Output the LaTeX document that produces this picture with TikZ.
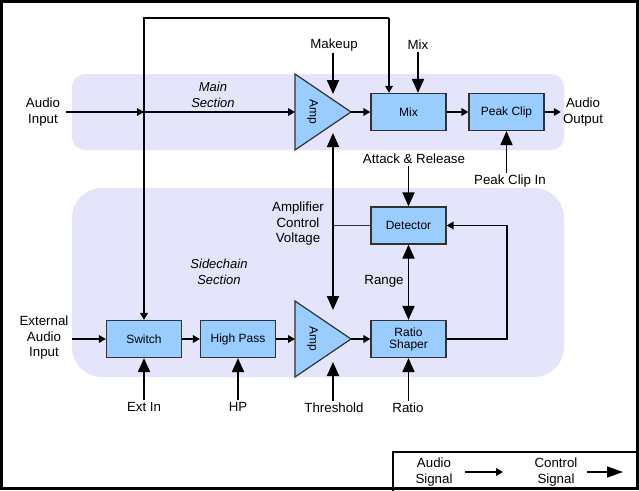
\documentclass[tikz,border=0pt]{standalone}
\usepackage{fontspec}
\setmainfont{Liberation Sans}
\usetikzlibrary{arrows.meta,calc}
\definecolor{bandc}{RGB}{228,228,250}
\definecolor{boxc}{RGB}{153,204,255}
\definecolor{edgec}{RGB}{50,50,50}
\begin{document}
\begin{tikzpicture}[x=1pt,y=-1pt,
 box/.style={draw=edgec,fill=boxc,line width=1.2pt,minimum width=75pt,minimum height=37pt,inner sep=0pt,font=\fontsize{12}{14}\selectfont,align=center},
 lbl/.style={inner sep=2pt,font=\fontsize{13.3}{15.5}\selectfont,align=center},
 sec/.style={inner sep=2pt,font=\fontsize{13}{15.5}\selectfont\itshape,align=center},
 audio/.style={line width=1.8pt,-{Triangle[length=7pt,width=7.5pt]}},
 ctrl/.style={line width=1.8pt,-{Triangle[length=14pt,width=12pt]}},
 ctrlboth/.style={line width=1.8pt,{Triangle[length=14pt,width=12pt]}-{Triangle[length=14pt,width=12pt]}},
 amp/.style={draw=edgec,fill=boxc,line width=1.2pt,line join=miter},
 amptext/.style={rotate=-90,inner sep=0pt,font=\fontsize{12}{14}\selectfont}
]
\useasboundingbox (0,0) rectangle (639,490);
\fill[white] (0,0) rectangle (639,490);
% bands
\fill[bandc,rounded corners=13pt] (72,74) rectangle (564,150);
\fill[bandc,rounded corners=30pt] (72,188) rectangle (564,377);

% amplifiers
\draw[amp] (295,74) -- (351,112) -- (295,150) -- cycle;
\node[amptext] (amp1) at (312.5,112) {Amp};
\draw[amp] (295,301) -- (351,339) -- (295,377) -- cycle;
\node[amptext] (amp2) at (312.5,339) {Amp};
\coordinate (amp1in) at (295,112);
\coordinate (amp1out) at (351,112);
\coordinate (amp2in) at (295,339);
\coordinate (amp2out) at (351,339);
\coordinate (makeupend) at (333,94);
\coordinate (amp1bot) at (333,133);
\coordinate (amp2top) at (333,310);
\coordinate (threshend) at (333,362);
\coordinate (J) at (144,112);
\coordinate (topL) at (144,18);
\coordinate (topR) at (389,18);

% boxes
\node[box] (mix) at (408.5,112) {Mix};
\node[box] (peak) at (506.5,112) {Peak Clip};
\node[box] (det) at (408.5,225.5) {Detector};
\node[box] (ratio) at (408.5,339) {Ratio\\[-2pt]Shaper};
\node[box] (switch) at (144,339) {Switch};
\node[box] (hp) at (238,339) {High Pass};

% labels
\node[lbl] (audioin) at (43,112) {Audio\\Input};
\node[lbl] (audioout) at (583,112) {Audio\\Output};
\node[lbl] (makeup) at (334,45) {Makeup};
\node[lbl] (mixlbl) at (418,45) {Mix};
\node[lbl] (attack) at (414,159) {Attack \& Release};
\node[lbl] (peakin) at (510,181) {Peak Clip In};
\node[lbl] (acv) at (298,224) {Amplifier\\Control\\Voltage};
\node[lbl] (range) at (384,281) {Range};
\node[lbl] (extin) at (144,407) {Ext In};
\node[lbl] (hplbl) at (238,407) {HP};
\node[lbl] (thresh) at (334,408) {Threshold};
\node[lbl] (ratiolbl) at (408,408) {Ratio};
\node[lbl,inner sep=0pt] (extaudio) at (44,338) {External\\Audio\\Input};
\node[sec] (mainsec) at (213,95) {Main\\Section};
\node[sec] (sidesec) at (219,272) {Sidechain\\Section};

% main audio path
\draw[audio,shorten <=4pt] (audioin.east) -- (J);
\draw[audio] (J) -- (amp1in);
\draw[audio] (amp1out) -- (mix.west);
\draw[audio] (mix.east) -- (peak.west);
\draw[audio] (peak.east) -- (audioout.west);
\draw[line width=1.8pt] (J) -- (topL) -- (topR);
\draw[audio] (topR) -- (topR |- mix.north);
\draw[audio] (J) -- (switch.north);

% sidechain audio path
\draw[audio,shorten <=3pt] (extaudio.east |- switch.west) -- (switch.west);
\draw[audio] (switch.east) -- (hp.west);
\draw[audio] (hp.east) -- (amp2in);
\draw[audio] (amp2out) -- (ratio.west);
\draw[audio] (ratio.east) -- ++(60,0) |- (det.east);

% control signals
\draw[ctrl] (makeup.south -| makeupend) -- (makeupend);
\draw[ctrl] (mixlbl.south) -- (mixlbl.south |- mix.north);
\draw[ctrl] (attack.south -| det.north) -- (det.north);
\draw[ctrl] (peakin.north -| peak.south) -- (peak.south);
\draw[ctrlboth] (amp1bot) -- (amp2top);
\draw[line width=1pt,draw=edgec] (det.west -| amp1bot) -- (det.west);
\draw[ctrlboth] (det.south) -- (ratio.north);
\draw[ctrl] (extin.north) -- (switch.south);
\draw[ctrl] (hplbl.north) -- (hp.south);
\draw[ctrl] (thresh.north -| threshend) -- (threshend);
\draw[ctrl] (ratiolbl.north -| ratio.south) -- (ratio.south);

% legend
\draw[line width=1.5pt] (393,452) rectangle (641,492);
\node[lbl] (legaudio) at (434,472) {Audio\\Signal};
\node[lbl] (legctrl) at (556,472) {Control\\Signal};
\coordinate (la1) at (465,472);
\coordinate (la2) at (503,472);
\coordinate (lc1) at (587,472);
\coordinate (lc2) at (623,472);
\draw[audio] (la1) -- (la2);
\draw[line width=1.5pt,-{Triangle[length=16pt,width=11pt]}] (lc1) -- (lc2);

% outer frame
\draw[line width=3pt] (1.5,1.5) rectangle (637.5,488.5);
\end{tikzpicture}
\end{document}
